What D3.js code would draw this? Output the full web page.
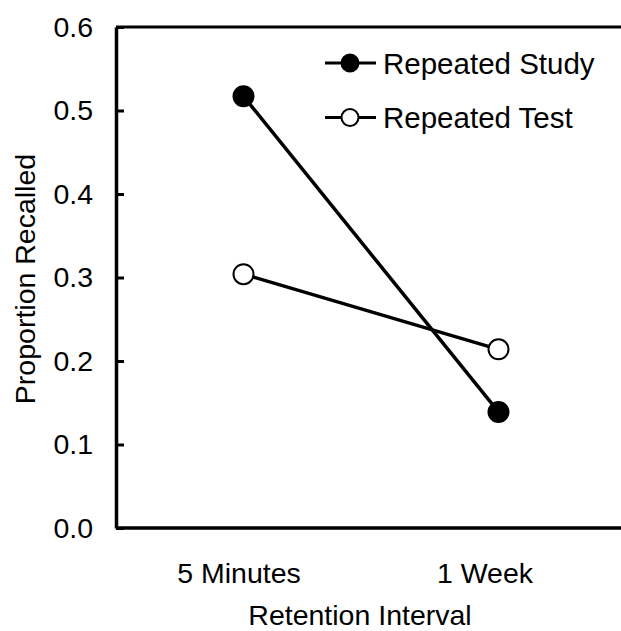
<!DOCTYPE html>
<html>
<head>
<meta charset="utf-8">
<script src="https://cdn.jsdelivr.net/npm/d3@7"></script>
<style>
  html, body { margin: 0; padding: 0; background: #fff; }
  svg { display: block; }
  text { font-family: "Liberation Sans", Arial, sans-serif; fill: #000; }
</style>
</head>
<body>
<svg id="chart" width="621" height="631"></svg>
<script>
// ---- data ----
const categories = ["5 Minutes", "1 Week"];
const repeatedStudy = [0.517, 0.139];
const repeatedTest = [0.304, 0.214];
const seriesNames = ["Repeated Study", "Repeated Test"];
const yTicks = [0.0, 0.1, 0.2, 0.3, 0.4, 0.5, 0.6];

// ---- layout ----
const svg = d3.select("#chart");
const mLeft = 116, mRight = 626, mTop = 27, mBottom = 528;

const x = d3.scalePoint().domain(categories).range([mLeft, mRight]).padding(0.5);
const y = d3.scaleLinear().domain([0, 0.6]).range([mBottom, mTop]);

// top frame line
svg.append("line")
  .attr("x1", mLeft).attr("x2", 640)
  .attr("y1", y(0.6)).attr("y2", y(0.6))
  .attr("stroke", "#000").attr("stroke-width", 3);

// y axis
const yAxis = svg.append("g")
  .attr("transform", `translate(${mLeft},0)`)
  .call(d3.axisLeft(y).tickValues(yTicks).tickFormat(d3.format(".1f"))
    .tickSizeInner(-8).tickSizeOuter(0).tickPadding(23));
yAxis.select(".domain").attr("stroke-width", 3.5);
yAxis.selectAll(".tick line").attr("stroke-width", 3);
yAxis.selectAll(".tick text").attr("font-size", 28.5).attr("font-family", "Liberation Sans, Arial, sans-serif");

// x axis
const xAxis = svg.append("g")
  .attr("transform", `translate(0,${mBottom})`)
  .call(d3.axisBottom(x).tickSize(0).tickSizeOuter(0));
xAxis.select(".domain").attr("d", `M${mLeft},0H640`).attr("stroke-width", 3.5);
const xLabelShift = [-5, -14];
xAxis.selectAll(".tick text")
  .attr("font-size", 28.5)
  .attr("font-family", "Liberation Sans, Arial, sans-serif")
  .attr("dy", 0).attr("y", 55)
  .attr("dx", (d, i) => xLabelShift[i]);

// axis titles
svg.append("text")
  .attr("x", 360).attr("y", 625)
  .attr("text-anchor", "middle").attr("font-size", 28.5)
  .text("Retention Interval");
svg.append("text")
  .attr("transform", "translate(35,279) rotate(-90)")
  .attr("text-anchor", "middle").attr("font-size", 28.5)
  .text("Proportion Recalled");

// series lines
const line = d3.line().x((d, i) => x(categories[i])).y(d => y(d));
const series = [
  { name: seriesNames[0], values: repeatedStudy, fill: "#000" },
  { name: seriesNames[1], values: repeatedTest, fill: "#fff" }
];
series.forEach(s => {
  svg.append("path").datum(s.values)
    .attr("d", line).attr("fill", "none")
    .attr("stroke", "#000").attr("stroke-width", 3.5);
});
series.forEach(s => {
  svg.selectAll(null).data(s.values).enter().append("circle")
    .attr("cx", (d, i) => x(categories[i]))
    .attr("cy", d => y(d))
    .attr("r", 10)
    .attr("fill", s.fill).attr("stroke", "#000").attr("stroke-width", 2);
});

// legend
const legend = svg.append("g");
series.forEach((s, i) => {
  const cy = 63 + i * 54.5;
  legend.append("line").attr("x1", 325).attr("x2", 376)
    .attr("y1", cy).attr("y2", cy).attr("stroke", "#000").attr("stroke-width", 3);
  legend.append("circle").attr("cx", 350).attr("cy", cy).attr("r", 8.5)
    .attr("fill", s.fill).attr("stroke", "#000").attr("stroke-width", 2);
  legend.append("text").attr("x", 383).attr("y", cy + 10.5)
    .attr("font-size", 29.5).text(s.name);
});
</script>
</body>
</html>
